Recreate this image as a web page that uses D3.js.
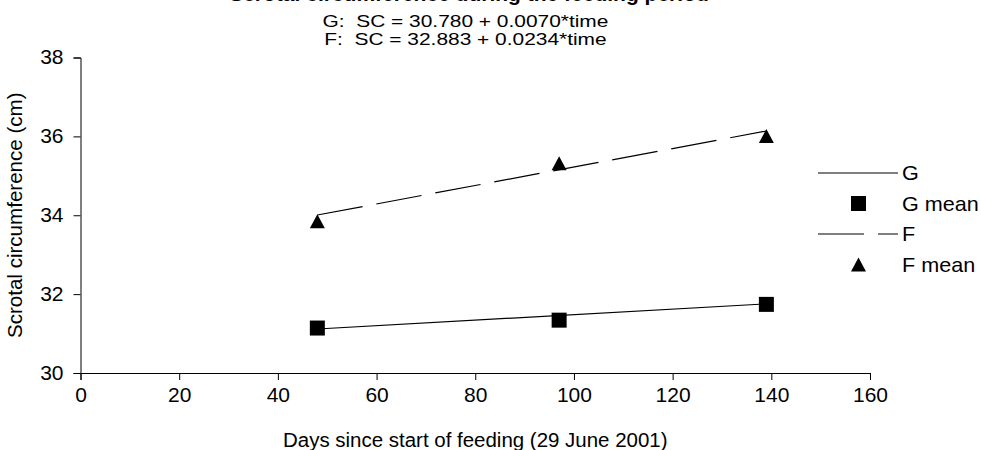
<!DOCTYPE html>
<html>
<head>
<meta charset="utf-8">
<script src="https://cdn.jsdelivr.net/npm/d3@7"></script>
<style>
    body { margin: 0; background: #fff; }
    svg text { font-family: "Liberation Sans", Arial, sans-serif; fill: #000; }
</style>
</head>
<body>
<div id="chart"></div>
<script>
// data
var days = [48, 97, 139];
var gMean = [31.14, 31.34, 31.74];
var fMean = [33.85, 35.32, 36.01];

// fitted lines, endpoints at first and last day
var fitDays = [48, 139];
var gFit = [31.116, 31.753];
var fFit = [34.006, 36.136];

var xTicks = [0, 20, 40, 60, 80, 100, 120, 140, 160];
var yTicks = [30, 32, 34, 36, 38];

var titleText = 'Scrotal circumference during the feeding period';
var subTitles = ['G:\u00a0 SC = 30.780 + 0.0070*time', 'F:\u00a0 SC = 32.883 + 0.0234*time'];
var legendNames = ['G', 'G mean', 'F', 'F mean'];

var W = 981, H = 450;
var margin = {left: 80.5, right: 111, top: 57.5, bottom: 77};

var svg = d3.select('#chart').append('svg')
    .attr('width', W)
    .attr('height', H);

var x = d3.scaleLinear().domain([0, 160]).range([margin.left, W - margin.right]);
var y = d3.scaleLinear().domain([30, 38]).range([H - margin.bottom, margin.top]);

// the source text is a bit wider than it is tall, so stretch it sideways
function stretch(sel, sx) {
    sel.each(function() {
        var t = d3.select(this);
        var x0 = +t.attr('x') || 0;
        t.attr('x', x0 / sx).attr('transform', 'scale(' + sx + ',1)');
    });
}

// axes
var xAxis = svg.append('g')
    .attr('transform', 'translate(0,' + y(30) + ')')
    .call(d3.axisBottom(x).tickValues(xTicks).tickSize(7).tickPadding(8));
var yAxis = svg.append('g')
    .attr('transform', 'translate(' + x(0) + ',0)')
    .call(d3.axisLeft(y).tickValues(yTicks).tickSize(7).tickPadding(10));

[xAxis, yAxis].forEach(function(a) {
    a.selectAll('path, line').attr('stroke', '#000').attr('stroke-width', 1);
    a.selectAll('text').style('font-size', '20px').attr('fill', '#000');
    a.attr('font-family', null);
    stretch(a.selectAll('text'), 1.05);
});

var xTitle = svg.append('text')
    .attr('x', (x(0) + x(160)) / 2)
    .attr('y', 447)
    .attr('text-anchor', 'middle')
    .style('font-size', '19.5px')
    .text('Days since start of feeding (29 June 2001)');
stretch(xTitle, 1.05);

svg.append('text')
    .attr('transform', 'translate(21.5,' + (y(30) + y(38)) / 2 + ') rotate(-90) scale(1.055,1)')
    .attr('text-anchor', 'middle')
    .style('font-size', '19.5px')
    .text('Scrotal circumference (cm)');

// title, cut off at the top like the source
svg.append('text')
    .attr('x', 469)
    .attr('y', 0.5)
    .attr('text-anchor', 'middle')
    .style('font-size', '21px')
    .style('font-weight', 'bold')
    .text(titleText);

var subs = svg.selectAll('.sub')
    .data(subTitles)
    .enter().append('text')
    .attr('class', 'sub')
    .attr('x', 465.5)
    .attr('y', function(d, i) { return 27 + i * 18; })
    .attr('text-anchor', 'middle')
    .style('font-size', '17px')
    .text(function(d) { return d; });
stretch(subs, 1.23);

// fitted lines
var line = d3.line()
    .x(function(d) { return x(d[0]); })
    .y(function(d) { return y(d[1]); });

svg.append('path')
    .datum(d3.zip(fitDays, gFit))
    .attr('d', line)
    .attr('fill', 'none')
    .attr('stroke', '#000')
    .attr('stroke-width', 1.2);

svg.append('path')
    .datum(d3.zip(fitDays, fFit))
    .attr('d', line)
    .attr('fill', 'none')
    .attr('stroke', '#000')
    .attr('stroke-width', 1.2)
    .attr('stroke-dasharray', '46,14');

// markers
var square = d3.symbol().type(d3.symbolSquare).size(225);
var triangle = 'M0,-7L7.5,7L-7.5,7Z';

svg.selectAll('.gm')
    .data(d3.zip(days, gMean))
    .enter().append('path')
    .attr('class', 'gm')
    .attr('d', square)
    .attr('transform', function(d) { return 'translate(' + x(d[0]) + ',' + y(d[1]) + ')'; })
    .attr('fill', '#000');

svg.selectAll('.fm')
    .data(d3.zip(days, fMean))
    .enter().append('path')
    .attr('class', 'fm')
    .attr('d', triangle)
    .attr('transform', function(d) { return 'translate(' + x(d[0]) + ',' + y(d[1]) + ')'; })
    .attr('fill', '#000');

// legend
var lg = svg.append('g').attr('transform', 'translate(818,173)');
var rowH = 30.5;
legendNames.forEach(function(name, i) {
    var row = lg.append('g').attr('transform', 'translate(0,' + i * rowH + ')');
    if (i === 0 || i === 2) {
        row.append('line')
            .attr('x1', 0).attr('x2', 80)
            .attr('stroke', '#000')
            .attr('stroke-width', 1.2)
            .attr('stroke-dasharray', i === 2 ? '46,14' : null);
    } else if (i === 1) {
        row.append('path').attr('d', square).attr('transform', 'translate(40.5,0)').attr('fill', '#000');
    } else {
        row.append('path').attr('d', triangle).attr('transform', 'translate(40.5,0)').attr('fill', '#000');
    }
    var t = row.append('text')
        .attr('x', 84)
        .attr('dy', '0.35em')
        .style('font-size', '20px')
        .text(name);
    stretch(t, 1.08);
});
</script>
</body>
</html>
